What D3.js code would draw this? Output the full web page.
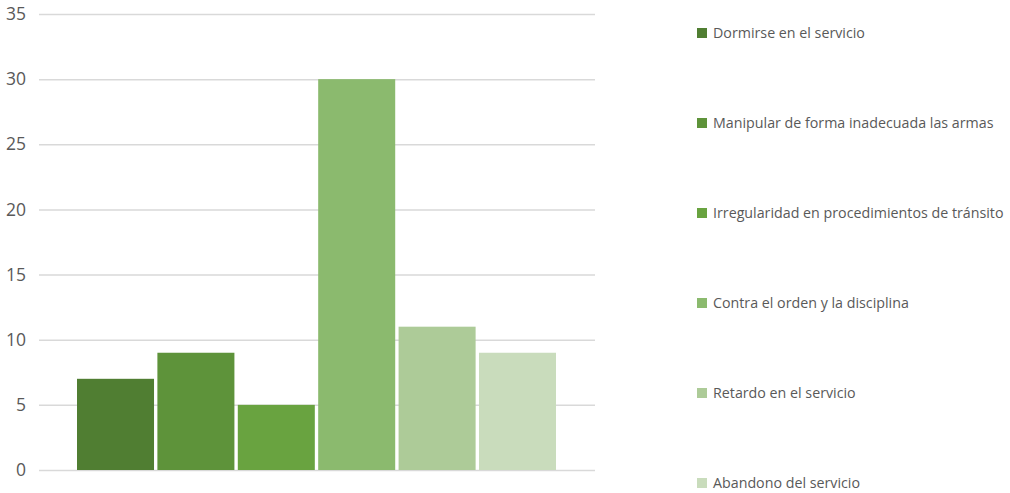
<!DOCTYPE html>
<html>
<head>
<meta charset="utf-8">
<script src="https://cdn.jsdelivr.net/npm/d3@7"></script>
<style>
  body { margin: 0; background: #fff; }
  svg { display: block; font-family: "Open Sans", "Noto Sans", sans-serif; }
</style>
</head>
<body>
<svg id="chart" width="1010" height="493"></svg>
<script>
// Faltas disciplinarias por tipo
const categories = [
  "Dormirse en el servicio",
  "Manipular de forma inadecuada las armas",
  "Irregularidad en procedimientos de tránsito",
  "Contra el orden y la disciplina",
  "Retardo en el servicio",
  "Abandono del servicio"
];
const values = [7, 9, 5, 30, 11, 9];
const colors = ["#507e32", "#5e933a", "#69a340", "#8bba6e", "#adcb98", "#c9dcbc"];
const yTicks = [0, 5, 10, 15, 20, 25, 30, 35];

const svg = d3.select("#chart");
const plot = { left: 39, right: 595, top: 14, bottom: 470 };

const y = d3.scaleLinear().domain([0, 35]).range([plot.bottom, plot.top]);
const x = d3.scaleBand()
  .domain(categories)
  .range([plot.left + 38, plot.right - 39])
  .paddingInner(0.042)
  .paddingOuter(0);

// Gridlines and value labels
const yAxis = d3.axisLeft(y)
  .tickValues(yTicks)
  .tickSize(-(plot.right - plot.left))
  .tickPadding(13)
  .tickFormat(d3.format("d"));

const gAxis = svg.append("g")
  .attr("transform", `translate(${plot.left},0)`)
  .call(yAxis);
gAxis.select(".domain").remove();
gAxis.selectAll(".tick line").attr("stroke", "#d9d9d9").attr("stroke-width", 1.5);
gAxis.selectAll(".tick text")
  .attr("fill", "#595959")
  .attr("font-size", 17.5)
  .attr("font-family", "'Open Sans', sans-serif");

// Bars
svg.append("g").selectAll("rect")
  .data(categories)
  .join("rect")
  .attr("x", d => x(d))
  .attr("width", x.bandwidth())
  .attr("y", (d, i) => y(values[i]))
  .attr("height", (d, i) => y(0) - y(values[i]))
  .attr("fill", (d, i) => colors[i]);

// Legend
const legend = svg.append("g").attr("transform", "translate(697,0)");
const rows = legend.selectAll("g")
  .data(categories)
  .join("g")
  .attr("transform", (d, i) => `translate(0,${33 + i * 90})`);
rows.append("rect")
  .attr("x", 0).attr("y", -5)
  .attr("width", 10).attr("height", 10)
  .attr("fill", (d, i) => colors[i]);
rows.append("text")
  .attr("x", 16)
  .attr("dy", "0.35em")
  .attr("fill", "#595959")
  .attr("font-size", 14.25)
  .text(d => d);
</script>
</body>
</html>
